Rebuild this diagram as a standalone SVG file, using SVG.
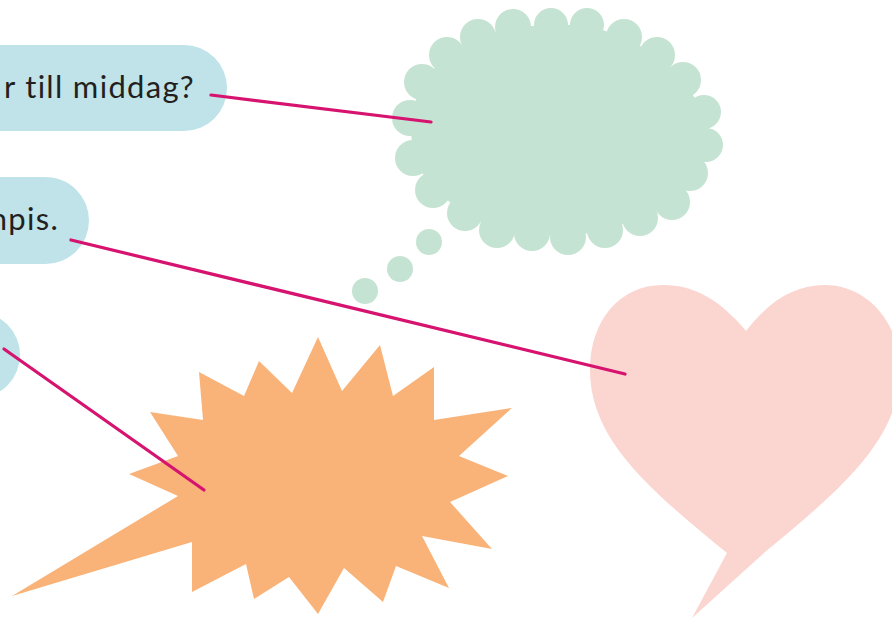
<svg xmlns="http://www.w3.org/2000/svg" width="892" height="619" viewBox="0 0 892 619">
<style>
.pill{fill:#BFE3E8}
.lbl{font-family:Lato,"Noto Sans","Liberation Sans",sans-serif;font-size:31px;letter-spacing:1.3px;fill:#231F20;text-anchor:end}
.cloud{fill:#C5E3D2}
.conn{stroke:#D6136F;stroke-width:3.2;stroke-linecap:round;fill:none}
</style>
<rect width="892" height="619" fill="#FFFFFF"/>
<g id="label-1">
<rect class="pill" x="-100" y="45" width="327" height="86" rx="43"/>
<text class="lbl" x="195" y="98">r till middag?</text>
</g>
<g id="label-2">
<rect class="pill" x="-200" y="177" width="289" height="87" rx="43.5"/>
<text class="lbl" x="59" y="230">npis.</text>
</g>
<g id="label-3">
<rect class="pill" x="-200" y="312" width="220" height="86" rx="43"/>
</g>
<g id="thought-cloud" class="cloud">
<polygon points="478,37 513,27 551,25 587,25 624,37 657,55 683,80 704,112 706,145 690,173 672,202 640,218 605,230 568,237 532,233 497,230 465,213 433,190 413,158 410,118 422,82 447,55"/>
<circle cx="478" cy="37" r="18"/>
<circle cx="513" cy="27" r="18"/>
<circle cx="551" cy="25" r="17"/>
<circle cx="587" cy="25" r="17"/>
<circle cx="624" cy="37" r="18"/>
<circle cx="657" cy="55" r="18"/>
<circle cx="683" cy="80" r="18"/>
<circle cx="704" cy="112" r="17"/>
<circle cx="706" cy="145" r="17"/>
<circle cx="690" cy="173" r="18"/>
<circle cx="672" cy="202" r="18"/>
<circle cx="640" cy="218" r="18"/>
<circle cx="605" cy="230" r="18"/>
<circle cx="568" cy="237" r="18"/>
<circle cx="532" cy="233" r="18"/>
<circle cx="497" cy="230" r="18"/>
<circle cx="465" cy="213" r="18"/>
<circle cx="433" cy="190" r="18"/>
<circle cx="413" cy="158" r="18"/>
<circle cx="410" cy="118" r="18"/>
<circle cx="422" cy="82" r="18"/>
<circle cx="447" cy="55" r="18"/>
<circle cx="429" cy="242" r="13"/>
<circle cx="400" cy="269" r="13"/>
<circle cx="365" cy="291" r="13"/>
</g>
<g id="starburst">
<polygon fill="#F9B379" points="12,596 178,496 129,474 178,456 150,412 203,420 199,372 244,396 259,361 292,393 318,337 342,391 380,345 393,396 434,367 434,420 512,408 459,456 508,476 450,502 492,549 422,536 449,588 396,566 383,602 344,568 318,614 289,577 254,599 246,564 192,592 192,542"/>
</g>
<g id="heart">
<path fill="#FBD5CF" d="M746,331 C720,300 695,285 663,285 C620,285 590,320 590,370 C590,440 650,490 727,553 L692,618 L765,552 C840,490 900,440 900,370 C900,320 865,285 825,285 C795,285 770,300 746,331 Z"/>
</g>
<g id="connectors">
<line class="conn" x1="211" y1="95" x2="431" y2="122"/>
<line class="conn" x1="71" y1="240" x2="625" y2="374"/>
<line class="conn" x1="4" y1="349" x2="204" y2="490"/>
</g>
</svg>
